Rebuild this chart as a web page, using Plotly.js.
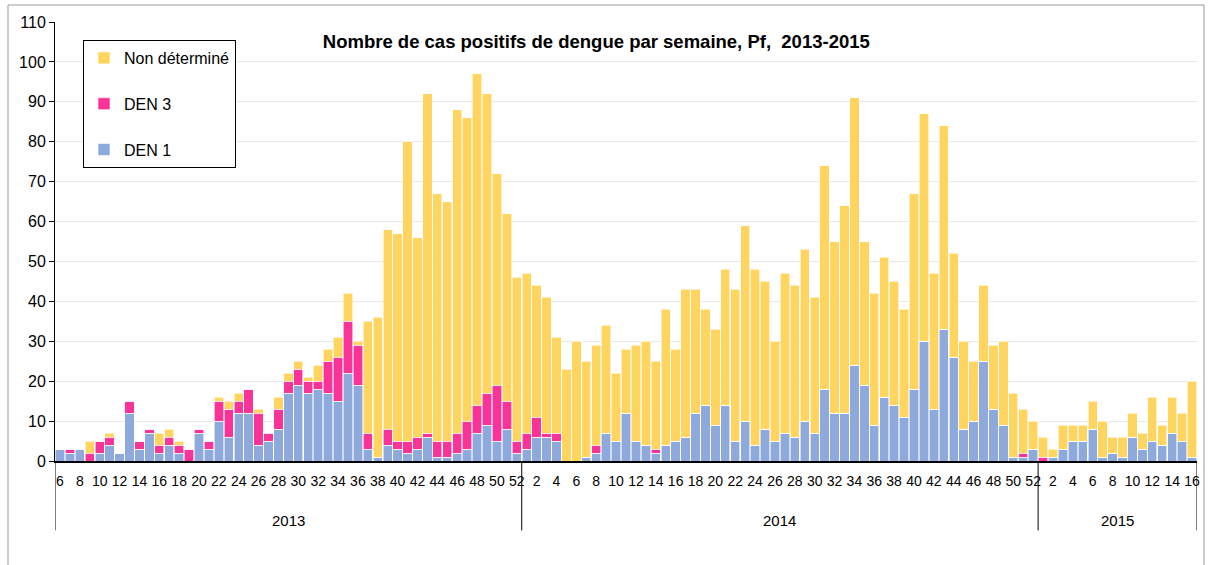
<!DOCTYPE html>
<html>
<head>
<meta charset="utf-8">
<script src="https://cdn.plot.ly/plotly-3.0.1.min.js"></script>
<style>html,body{margin:0;padding:0;background:#fff;}#chart{width:1212px;height:565px;}</style>
</head>
<body>
<div id="chart"></div>
<script>
// Years and weeks of each bar
const years = ["2013","2014","2015"];
const weeks2013 = [6,7,8,9,10,11,12,13,14,15,16,17,18,19,20,21,22,23,24,25,26,27,28,29,30,31,32,33,34,35,36,37,38,39,40,41,42,43,44,45,46,47,48,49,50,51,52];
const weeks2014 = [1,2,3,4,5,6,7,8,9,10,11,12,13,14,15,16,17,18,19,20,21,22,23,24,25,26,27,28,29,30,31,32,33,34,35,36,37,38,39,40,41,42,43,44,45,46,47,48,49,50,51,52];
const weeks2015 = [1,2,3,4,5,6,7,8,9,10,11,12,13,14,15,16];

// DEN 1 per week
const den1_2013 = [3,2,3,0,2,4,2,12,3,7,2,4,2,0,7,3,10,6,12,12,4,5,8,17,19,17,18,17,15,22,19,3,1,4,3,2,3,6,1,1,2,3,7,9,5,8,2];
const den1_2014 = [3,6,6,5,0,0,1,2,7,5,12,5,4,2,4,5,6,12,14,9,14,5,10,4,8,5,7,6,10,7,18,12,12,24,19,9,16,14,11,18,30,13,33,26,8,10,25,13,9,1,1,3];
const den1_2015 = [0,1,3,5,5,8,1,2,1,6,3,5,4,7,5,1];

// DEN 3 per week
const den3_2013 = [0,1,0,2,3,2,0,3,2,1,2,2,2,3,1,2,5,7,3,6,8,2,5,3,4,3,2,8,11,13,10,4,0,4,2,3,3,1,4,4,5,7,7,8,14,7,3];
const den3_2014 = [4,5,1,2,0,0,0,2,0,0,0,0,0,1,0,0,0,0,0,0,0,0,0,0,0,0,0,0,0,0,0,0,0,0,0,0,0,0,0,0,0,0,0,0,0,0,0,0,0,0,1,0];
const den3_2015 = [1,0,0,0,0,0,0,0,0,0,0,0,0,0,0,0];

// Non déterminé per week
const nd_2013 = [0,0,0,3,0,1,0,0,0,0,3,2,1,0,0,0,1,2,2,0,1,0,3,2,2,1,4,3,5,7,1,28,35,50,52,75,50,85,62,60,81,76,83,75,53,47,41];
const nd_2014 = [40,33,34,24,23,30,24,25,27,17,16,24,26,22,34,23,37,31,24,24,34,38,49,44,37,25,40,38,43,34,56,43,52,67,36,33,35,31,27,49,57,34,51,26,22,15,19,16,21,16,11,7];
const nd_2015 = [5,2,6,4,4,7,9,4,5,6,4,11,5,9,7,19];

const weekLists = [weeks2013, weeks2014, weeks2015];
const weeks = [].concat(weeks2013, weeks2014, weeks2015);
const den1 = [].concat(den1_2013, den1_2014, den1_2015);
const den3 = [].concat(den3_2013, den3_2014, den3_2015);
const nd = [].concat(nd_2013, nd_2014, nd_2015);
const xs = weeks.map((w,i)=>i);

const tickvals = [], ticktext = [];
weeks.forEach((w,i)=>{ if (w % 2 === 0) { tickvals.push(i); ticktext.push(String(w)); } });

// group boundaries
const bounds = [-0.5];
let acc = 0;
weekLists.forEach(l => { acc += l.length; bounds.push(acc - 0.5); });

const FONT = "Liberation Sans, Arial, sans-serif";
const traces = [
  {type:'bar', x:xs, name:'DEN 1', y: den1, marker:{color:'#8EA9DB', line:{color:'#ffffff', width:0.6}}, legendgroup:'a', legendrank:3},
  {type:'bar', x:xs, name:'DEN 3', y: den3, marker:{color:'#FA3399', line:{color:'#ffffff', width:0.6}}, legendgroup:'b', legendrank:2},
  {type:'bar', x:xs, name:'Non déterminé', y: nd, marker:{color:'#FFD55F', line:{color:'#ffffff', width:0.6}}, legendgroup:'c', legendrank:1}
];

const shapes = [];
bounds.forEach(b => {
  shapes.push({type:'line', xref:'x', yref:'paper', x0:b, x1:b, y0:0, y1:-0.158, line:{color:'#000', width:1}});
});
// outer frame
shapes.push({type:'rect', xref:'paper', yref:'paper',
  x0:(8-55)/1142, x1:(1204-55)/1142, y0:(461-575)/439, y1:(461-5)/439,
  line:{color:'#999', width:1}, fillcolor:'rgba(0,0,0,0)'});

const annotations = years.map((yr,k)=>({
  xref:'x', yref:'paper', x:(bounds[k]+bounds[k+1])/2, y:(461-520)/439,
  text:yr, showarrow:false, font:{family:FONT, size:15, color:'#000'}, xanchor:'center', yanchor:'middle'
}));

const layout = {
  width:1212, height:565,
  margin:{l:55, r:15, t:22, b:104},
  paper_bgcolor:'#fff', plot_bgcolor:'#fff',
  barmode:'stack', bargap:0.06,
  title:{text:'<b>Nombre de cas positifs de dengue par semaine, Pf,  2013-2015</b>', x:0.492, xanchor:'center', y:1-42/565, yanchor:'middle', font:{family:FONT, size:18.5, color:'#000'}},
  xaxis:{range:[-0.5, xs.length-0.5], tickmode:'array', tickvals:tickvals, ticktext:ticktext, tickangle:0,
    showline:true, linecolor:'#000', linewidth:2, ticks:'', showgrid:false, zeroline:false, ticklabelstandoff:6,
    tickfont:{family:FONT, size:14, color:'#000'}, fixedrange:true},
  yaxis:{range:[0,110], dtick:10, tick0:0, showline:true, linecolor:'#000', linewidth:1, ticks:'outside', ticklen:5, tickcolor:'#000',
    showgrid:true, gridcolor:'#E8E8E8', gridwidth:1, zeroline:false,
    tickfont:{family:FONT, size:16, color:'#000'}, fixedrange:true},
  legend:{x:(83-55)/1142, y:(461-40)/439, xanchor:'left', yanchor:'top', bordercolor:'#000', borderwidth:1, bgcolor:'#fff',
    traceorder:'grouped', tracegroupgap:22, itemwidth:30, font:{family:FONT, size:16, color:'#000'}},
  shapes:shapes, annotations:annotations, showlegend:true
};

Plotly.newPlot('chart', traces, layout, {displayModeBar:false, staticPlot:true});
</script>
</body>
</html>
